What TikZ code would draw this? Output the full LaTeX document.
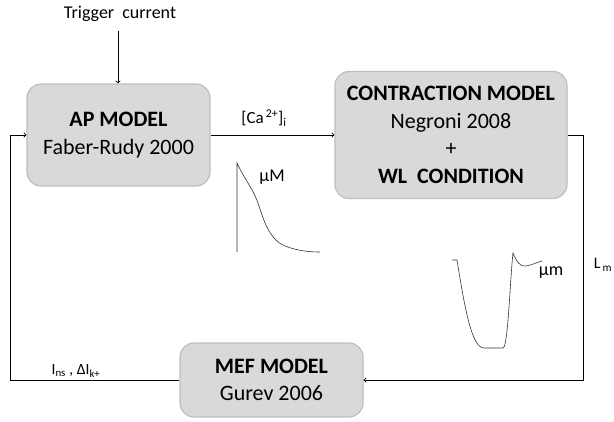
\documentclass[tikz,border=0pt]{standalone}
\usepackage{fontspec}
\setmainfont{Carlito}
\usetikzlibrary{arrows,positioning}

\definecolor{boxfill}{RGB}{217,217,217}
\definecolor{boxline}{RGB}{190,190,190}

\begin{document}
\begin{tikzpicture}[
  x=1pt,
  y=-1pt,
  model/.style={
    rectangle,
    rounded corners=14pt,
    draw=boxline,
    line width=1.2pt,
    fill=boxfill,
    text=black,
    align=center,
    font=\fontsize{22}{27.5}\selectfont
  },
  lbl/.style={
    text=black,
    inner sep=1pt,
    font=\fontsize{16}{18}\selectfont
  },
  flow/.style={
    ->,
    line width=0.9pt,
    draw=black,
    >=to
  },
  trace/.style={
    line width=0.6pt,
    draw=black!80
  }
]
\useasboundingbox (0,0) rectangle (614,421);

% Model blocks
\node[model, minimum width=183pt, minimum height=102pt] (ap) at (118.5,135)
  {\textbf{AP MODEL}\\Faber-Rudy 2000};
\node[model, minimum width=232pt, minimum height=127pt] (contraction) at (451,135)
  {\textbf{CONTRACTION MODEL}\\Negroni 2008\\+\\\textbf{WL\ \ CONDITION}};
\node[model, minimum width=183pt, minimum height=74pt] (mef) at (271.5,380)
  {\textbf{MEF MODEL}\\Gurev 2006};

% Input and signal labels
\node[lbl, font=\fontsize{18}{20}\selectfont] (trigger) at (120,14) {Trigger\ \ current};
\coordinate (tstart) at (118,31);
\node[lbl, font=\fontsize{17}{20}\selectfont] (ca) at (264,118) {[Ca\textsuperscript{\,2+}]\textsubscript{i}};
\node[lbl] (lm) at (603,265) {L\textsubscript{\,m}};
\node[lbl, font=\fontsize{15.5}{18}\selectfont] (ins) at (76,371) {I\textsubscript{ns} , ΔI\textsubscript{k+}};

% Turning points of the loop
\coordinate (rturn) at (583,135);
\coordinate (lturn) at (10,380);

% Connectors
\draw[flow] (tstart) -- (ap.north -| tstart);
\draw[flow] (ap.east) -- (contraction.west);
\draw[flow] (contraction.east) -- (rturn) |- (mef.east);
\draw[flow] (mef.west) -- (lturn) |- (ap.west);

% Calcium transient
\node[lbl, font=\fontsize{18}{20}\selectfont] (camu) at (272,177) {μM};
\draw[trace] (237,252) -- (237,163)
  .. controls (244,178) and (252,188) .. (256,198)
  .. controls (262,212) and (266,238) .. (285,246)
  .. controls (298,251) and (310,252) .. (320,252);

% Sarcomere length
\node[lbl, font=\fontsize{18}{20}\selectfont] (lmu) at (551,273) {μm};
\draw[trace] (452,260) -- (457,260)
  .. controls (465,310) and (472,348) .. (484,348) -- (503,348)
  .. controls (508,348) and (510,280) .. (513,253)
  .. controls (517,262) and (520,267) .. (526,266)
  .. controls (532,265) and (538,262) .. (542,261);

\end{tikzpicture}
\end{document}
